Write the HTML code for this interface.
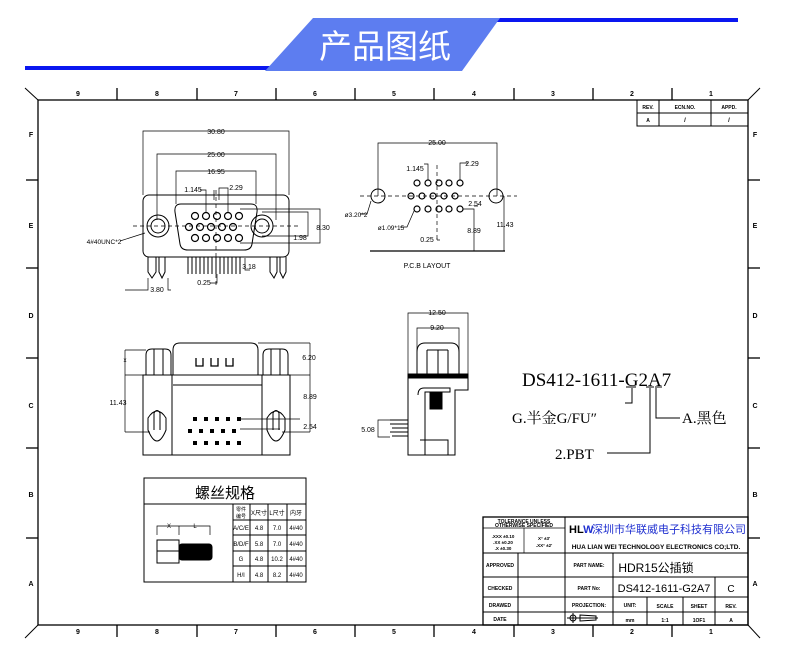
<!DOCTYPE html>
<html><head><meta charset="utf-8"><style>
html,body{margin:0;padding:0;background:#fff;}
svg{display:block}
text{font-family:"Liberation Sans","Noto Sans CJK SC",sans-serif;fill:#000}
.s{font-family:"Liberation Serif","Noto Serif CJK SC",serif}
</style></head><body>
<svg width="790" height="663" viewBox="0 0 790 663" xmlns="http://www.w3.org/2000/svg">
<rect x="25" y="66" width="245" height="4" fill="#0a17f0"/>
<rect x="495" y="18" width="243" height="4" fill="#0a17f0"/>
<polygon points="313,18 500,18 462,71 265,71" fill="#5d7df0"/>
<text x="385" y="58" font-size="33" fill="#fff" style="fill:#fff" text-anchor="middle" font-family="Noto Sans CJK SC">产品图纸</text>

<g stroke="#000" fill="none" stroke-width="1">
<rect x="38" y="100" width="710" height="525" stroke-width="1.3"/>
<line x1="25" y1="88" x2="38" y2="100"/><line x1="760" y1="88" x2="748" y2="100"/>
<line x1="25" y1="638" x2="38" y2="625"/><line x1="760" y1="638" x2="748" y2="625"/>
<g stroke-width="1.3">
<line x1="117" y1="88" x2="117" y2="100"/><line x1="197" y1="88" x2="197" y2="100"/><line x1="276" y1="88" x2="276" y2="100"/><line x1="355" y1="88" x2="355" y2="100"/><line x1="434" y1="88" x2="434" y2="100"/><line x1="514" y1="88" x2="514" y2="100"/><line x1="593" y1="88" x2="593" y2="100"/><line x1="672" y1="88" x2="672" y2="100"/>
<line x1="117" y1="625" x2="117" y2="637"/><line x1="197" y1="625" x2="197" y2="637"/><line x1="276" y1="625" x2="276" y2="637"/><line x1="355" y1="625" x2="355" y2="637"/><line x1="434" y1="625" x2="434" y2="637"/><line x1="514" y1="625" x2="514" y2="637"/><line x1="593" y1="625" x2="593" y2="637"/><line x1="672" y1="625" x2="672" y2="637"/>
<line x1="26" y1="180" x2="38" y2="180"/><line x1="26" y1="268" x2="38" y2="268"/><line x1="26" y1="358" x2="38" y2="358"/><line x1="26" y1="448" x2="38" y2="448"/><line x1="26" y1="538" x2="38" y2="538"/>
<line x1="748" y1="180" x2="760" y2="180"/><line x1="748" y1="268" x2="760" y2="268"/><line x1="748" y1="358" x2="760" y2="358"/><line x1="748" y1="448" x2="760" y2="448"/><line x1="748" y1="538" x2="760" y2="538"/>
</g>
<rect x="637" y="100" width="111" height="26"/><line x1="637" y1="113" x2="748" y2="113"/><line x1="659" y1="100" x2="659" y2="126"/><line x1="711" y1="100" x2="711" y2="126"/>

<rect x="143" y="195" width="146" height="62" rx="6"/>
<path d="M181,204 H251 Q258,204 257,212 L252,244 Q251,250 244,250 H188 Q181,250 180,244 L175,212 Q174,204 181,204Z"/>
<circle cx="158" cy="226" r="11"/><circle cx="158" cy="226" r="7"/>
<circle cx="262" cy="226" r="11"/><circle cx="262" cy="226" r="7"/>
<g stroke-width="1.2">
<circle cx="195" cy="216" r="3.5"/><circle cx="206" cy="216" r="3.5"/><circle cx="217" cy="216" r="3.5"/><circle cx="228" cy="216" r="3.5"/><circle cx="239" cy="216" r="3.5"/>
<circle cx="189" cy="227" r="3.5"/><circle cx="200" cy="227" r="3.5"/><circle cx="211" cy="227" r="3.5"/><circle cx="222" cy="227" r="3.5"/><circle cx="233" cy="227" r="3.5"/>
<circle cx="195" cy="238" r="3.5"/><circle cx="206" cy="238" r="3.5"/><circle cx="217" cy="238" r="3.5"/><circle cx="228" cy="238" r="3.5"/><circle cx="239" cy="238" r="3.5"/>
</g>
<line x1="133" y1="226" x2="300" y2="226" stroke-dasharray="4,3" stroke-width=".7"/>
<line x1="216" y1="190" x2="216" y2="285" stroke-dasharray="4,3" stroke-width=".7"/>
<g stroke-width=".7">
<path d="M143,195 V131 H289 V195"/><path d="M157,220 V154 H276 V220"/><path d="M176,204 V171 H256 V204"/>
<path d="M206,212 V190 H200"/><path d="M214,200 V190 M219,200 V188 H228 V212"/>
<path d="M240,209 H320 V243 H240"/><path d="M262,212 H308 V236 H262"/>
<path d="M245,258 V270 H250"/><path d="M217,274 V283 H210"/>
<path d="M148,278 V290 H125 M168,278 V290 H171"/>
<path d="M120,241 L145,233"/>
</g>
<g stroke-width="1">
<path d="M148,257 V272 L152,278 L156,272 V257 M159,257 V272 L162,278 L165,272 V257"/>
<path d="M270,257 V272 L274,278 L277,272 V257 M280,257 V272 L283,278 L286,272 V257"/>
<path d="M188,257 V274 M192,257 V274 M196,257 V274 M200,257 V274 M204,257 V274 M208,257 V274 M212,257 V274 M216,257 V274 M220,257 V274 M224,257 V274 M228,257 V274 M232,257 V274 M236,257 V274 M240,257 V274"/>
</g>

<line x1="360" y1="196" x2="517" y2="196" stroke-dasharray="4,3" stroke-width=".7"/>
<line x1="437" y1="165" x2="437" y2="242" stroke-dasharray="4,3" stroke-width=".7"/>
<circle cx="378" cy="196" r="7"/><circle cx="496" cy="196" r="7"/>
<g stroke-width="1.2">
<circle cx="417" cy="183" r="3"/><circle cx="428" cy="183" r="3"/><circle cx="439" cy="183" r="3"/><circle cx="449" cy="183" r="3"/><circle cx="460" cy="183" r="3"/>
<circle cx="411" cy="196" r="3"/><circle cx="422" cy="196" r="3"/><circle cx="433" cy="196" r="3"/><circle cx="444" cy="196" r="3"/><circle cx="455" cy="196" r="3"/>
<circle cx="417" cy="209" r="3"/><circle cx="428" cy="209" r="3"/><circle cx="439" cy="209" r="3"/><circle cx="449" cy="209" r="3"/><circle cx="460" cy="209" r="3"/>
</g>
<g stroke-width=".7">
<path d="M378,196 V143 H497 V196"/><path d="M428,180 V164 H424 M460,180 V163 H468"/>
<path d="M463,209 H474 V251 M474,206 H478"/><path d="M504,196 V251"/><path d="M437,240 V238 M437,240 H440"/>
<path d="M371,201 L367,214 H360 M414,211 L407,227 H400"/>
</g>
<line x1="370" y1="251" x2="505" y2="251" stroke-width="1.2"/>

<path d="M173,375 V350 Q173,343 180,343 H251 Q258,343 258,350 V375"/>
<rect x="143" y="375" width="147" height="80"/>
<line x1="172" y1="375" x2="172" y2="455"/><line x1="262" y1="375" x2="262" y2="455"/>
<line x1="173" y1="385" x2="262" y2="385"/>
<path d="M146,375 V355 Q146,349 152,349 H165 Q171,349 171,355 V375 M154,349 V375 M163,349 V375"/>
<path d="M263,375 V355 Q263,349 269,349 H282 Q288,349 288,355 V375 M271,349 V375 M280,349 V375"/>
<path d="M148,430 V418 Q157,404 166,418 V430 Q157,452 148,430Z M154,430 V413 Q157,408 160,413 V430"/>
<path d="M267,430 V418 Q276,404 285,418 V430 Q276,452 267,430Z M273,430 V413 Q276,408 279,413 V430"/>
<path d="M196,358 V366 H203 V358 M211,358 V366 H218 V358 M226,358 V366 H233 V358" stroke-width="1.3"/>
<g stroke-width=".7">
<path d="M125,350 H146 M125,375 V350 M125,432 V375 H143 M125,432 H150"/>
<path d="M258,343 H310 M290,375 H310 M310,343 V432 M282,432 H310 M240,419 H300 M240,429 H280"/>
</g>
<g fill="#000" stroke="none">
<rect x="193" y="417" width="4" height="4"/><rect x="204" y="417" width="4" height="4"/><rect x="215" y="417" width="4" height="4"/><rect x="226" y="417" width="4" height="4"/><rect x="237" y="417" width="4" height="4"/>
<rect x="188" y="429" width="4" height="4"/><rect x="199" y="429" width="4" height="4"/><rect x="210" y="429" width="4" height="4"/><rect x="221" y="429" width="4" height="4"/><rect x="232" y="429" width="4" height="4"/>
<rect x="193" y="441" width="4" height="4"/><rect x="204" y="441" width="4" height="4"/><rect x="215" y="441" width="4" height="4"/><rect x="226" y="441" width="4" height="4"/><rect x="237" y="441" width="4" height="4"/>
</g>

<path d="M417,374 V352 Q417,343 425,343 H451 Q459,343 459,352 V374"/>
<path d="M427,350 V374 M438,350 V374 M448,350 V374 M427,350 H448"/>
<rect x="408" y="374" width="60" height="4" fill="#000"/>
<path d="M408,378 V455 H455 V390 H468 V378"/>
<path d="M418,395 Q418,388 424,388 H450 V392 H425 V455 M420,440 H448 V455"/>
<rect x="430" y="393" width="12" height="16" fill="#000"/>
<path d="M390,420 H408 M392,428 H408 M392,436 H408 M390,432 H408 M390,424 H408"/>
<g stroke-width=".7">
<path d="M408,374 V313 H468 V374 M417,352 V328 H459 V352"/>
<path d="M390,420 H378 V437 H390"/>
</g>
<g stroke-width="1">
<path d="M632,388 V403 H625 M650,388 V453 H607 M656,388 V418 H680"/>
<path d="M626,387 H636 M646,387 H654 M655,387 H662"/>
</g>

<rect x="144" y="478" width="162" height="104"/>
<line x1="144" y1="504" x2="306" y2="504"/>
<line x1="233" y1="504" x2="233" y2="582"/><line x1="250" y1="504" x2="250" y2="582"/><line x1="268" y1="504" x2="268" y2="582"/><line x1="287" y1="504" x2="287" y2="582"/>
<line x1="233" y1="520" x2="306" y2="520"/><line x1="233" y1="535" x2="306" y2="535"/><line x1="233" y1="551" x2="306" y2="551"/><line x1="233" y1="566" x2="306" y2="566"/>
<rect x="157" y="540" width="22" height="23"/><line x1="157" y1="551" x2="179" y2="551"/>
<rect x="179" y="544" width="33" height="16" fill="#000" rx="3"/>
<path d="M157,535 V526 H179 V535 M179,526 H210 V535" stroke-width=".7"/>

<rect x="483" y="517" width="265" height="108" stroke-width="1.3"/>
<line x1="565" y1="517" x2="565" y2="625"/>
<line x1="518" y1="553" x2="518" y2="625"/>
<line x1="483" y1="528" x2="565" y2="528" stroke-width=".7"/><line x1="524" y1="528" x2="524" y2="553" stroke-width=".7"/>
<line x1="483" y1="553" x2="748" y2="553"/><line x1="483" y1="577" x2="748" y2="577"/><line x1="483" y1="597" x2="748" y2="597"/><line x1="483" y1="612" x2="748" y2="612"/>
<line x1="613" y1="553" x2="613" y2="597"/><line x1="613" y1="597" x2="613" y2="625"/>
<line x1="647" y1="597" x2="647" y2="625"/><line x1="683" y1="597" x2="683" y2="625"/><line x1="715" y1="577" x2="715" y2="625"/>
<circle cx="573" cy="618" r="3"/><path d="M567,618 H579 M573,613 V623 M580,615 L596,616 V620 L580,621Z M576,618 H598"/>
</g>

<g font-size="7" font-weight="bold" text-anchor="middle">
<text x="78" y="96">9</text><text x="157" y="96">8</text><text x="236" y="96">7</text><text x="315" y="96">6</text><text x="394" y="96">5</text><text x="474" y="96">4</text><text x="553" y="96">3</text><text x="632" y="96">2</text><text x="711" y="96">1</text>
<text x="78" y="634">9</text><text x="157" y="634">8</text><text x="236" y="634">7</text><text x="315" y="634">6</text><text x="394" y="634">5</text><text x="474" y="634">4</text><text x="553" y="634">3</text><text x="632" y="634">2</text><text x="711" y="634">1</text>
<text x="31" y="137">F</text><text x="31" y="228">E</text><text x="31" y="318">D</text><text x="31" y="408">C</text><text x="31" y="497">B</text><text x="31" y="586">A</text>
<text x="755" y="137">F</text><text x="755" y="228">E</text><text x="755" y="318">D</text><text x="755" y="408">C</text><text x="755" y="497">B</text><text x="755" y="586">A</text>
<text x="648" y="109" font-size="5">REV.</text><text x="685" y="109" font-size="5">ECN.NO.</text><text x="729" y="109" font-size="5">APPD.</text>
<text x="648" y="122" font-size="5">A</text><text x="685" y="122" font-size="6">/</text><text x="729" y="122" font-size="6">/</text>
</g>
<g font-size="7" text-anchor="middle">
<text x="216" y="134">30.80</text><text x="216" y="157">25.00</text><text x="216" y="174">16.95</text>
<text x="193" y="192">1.145</text><text x="236" y="190">2.29</text>
<text x="323" y="230">8.30</text><text x="300" y="240">1.98</text><text x="249" y="269">3.18</text>
<text x="204" y="285">0.25</text><text x="157" y="292">3.80</text>
<text x="104" y="244" font-size="6.5">4#40UNC*2</text>
<text x="437" y="145">25.00</text><text x="415" y="171">1.145</text><text x="472" y="166">2.29</text>
<text x="475" y="206">2.54</text><text x="474" y="233">8.89</text><text x="505" y="227">11.43</text>
<text x="356" y="217" font-size="6.5">ø3.20*2</text><text x="391" y="230" font-size="6.5">ø1.09*15</text>
<text x="427" y="242">0.25</text>
<text x="427" y="268" font-size="7">P.C.B  LAYOUT</text>
<text x="309" y="360">6.20</text><text x="310" y="399">8.89</text><text x="310" y="429">2.54</text>
<text x="118" y="405">11.43</text><text x="125" y="362" font-size="6">x</text>
<text x="437" y="315">12.50</text><text x="437" y="330">9.20</text><text x="368" y="432">5.08</text>
<text x="169" y="528" font-size="6">X</text><text x="195" y="528" font-size="6">L</text>
</g>
<text x="225" y="498" font-size="15" text-anchor="middle" font-family="Noto Sans CJK SC">螺丝规格</text>
<g font-size="6" text-anchor="middle" class="s">
<text x="241" y="511" font-size="5">零件</text><text x="241" y="518" font-size="5">编号</text><text x="259" y="515">X尺寸</text><text x="277" y="515">L尺寸</text><text x="296" y="515">内牙</text>
<text x="241" y="530">A/C/E</text><text x="259" y="530">4.8</text><text x="277" y="530">7.0</text><text x="296" y="530">4#40</text>
<text x="241" y="546">B/D/F</text><text x="259" y="546">5.8</text><text x="277" y="546">7.0</text><text x="296" y="546">4#40</text>
<text x="241" y="561">G</text><text x="259" y="561">4.8</text><text x="277" y="561">10.2</text><text x="296" y="561">4#40</text>
<text x="241" y="577">H/I</text><text x="259" y="577">4.8</text><text x="277" y="577">8.2</text><text x="296" y="577">4#40</text>
</g>
<text x="522" y="386" font-size="19" class="s">DS412-1611-G2A7</text>
<text x="512" y="423" font-size="15" class="s">G.半金G/FU″</text>
<text x="682" y="423" font-size="15" class="s">A.黑色</text>
<text x="555" y="459" font-size="15" class="s">2.PBT</text>

<g font-size="5" font-weight="bold" text-anchor="middle">
<text x="524" y="523">TOLERANCE UNLESS</text><text x="524" y="527">OTHERWISE SPECIFIED</text>
<text x="503" y="538" font-size="4.5">.XXX ±0.10</text><text x="503" y="544" font-size="4.5">.XX  ±0.20</text><text x="503" y="550" font-size="4.5">.X   ±0.30</text>
<text x="544" y="540" font-size="4.5">X°  ±3′</text><text x="544" y="547" font-size="4.5">.XX°  ±2′</text>
<text x="500" y="567">APPROVED</text><text x="500" y="590">CHECKED</text><text x="500" y="607">DRAWED</text><text x="500" y="621">DATE</text>
<text x="589" y="567">PART NAME:</text><text x="589" y="590">PART No:</text><text x="589" y="607">PROJECTION:</text>
<text x="630" y="607">UNIT:</text><text x="665" y="608">SCALE</text><text x="699" y="608">SHEET</text><text x="731" y="608">REV.</text>
<text x="630" y="622">mm</text><text x="665" y="622">1:1</text><text x="699" y="622">1OF1</text><text x="731" y="622">A</text>
<text x="656" y="549" font-size="6.5">HUA LIAN WEI TECHNOLOGY ELECTRONICS CO;LTD.</text>
</g>
<text x="569" y="533" font-size="11" font-weight="bold">HL<tspan fill="#2030d0" style="fill:#2030d0">W</tspan></text>
<text x="592" y="533" font-size="11" fill="#2030d0" style="fill:#2030d0">深圳市华联威电子科技有限公司</text>
<text x="656" y="572" font-size="12" text-anchor="middle">HDR15公插锁</text>
<text x="664" y="592" font-size="11" text-anchor="middle" font-family="Liberation Mono">DS412-1611-G2A7</text>
<text x="731" y="592" font-size="10" text-anchor="middle">C</text>
</svg>
</body></html>
